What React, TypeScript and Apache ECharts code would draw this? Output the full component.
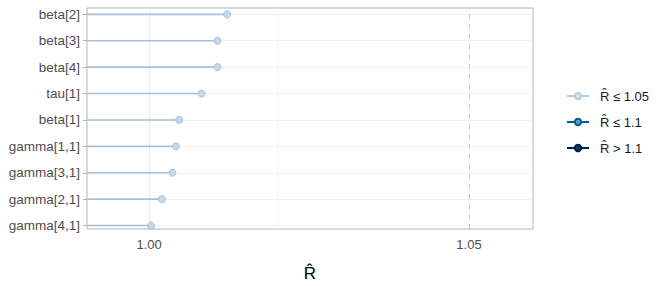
import React, { useEffect, useRef } from "react";
import * as echarts from "echarts";

const params = ["gamma[4,1]", "gamma[2,1]", "gamma[3,1]", "gamma[1,1]", "beta[1]", "tau[1]", "beta[4]", "beta[3]", "beta[2]"];
const rhat = [1.0003, 1.002, 1.00365, 1.0042, 1.0047, 1.0082, 1.0107, 1.0107, 1.0122];
const xTicks = [1.0, 1.05];
const legendNames = ["R\u0302 \u2264 1.05", "R\u0302 \u2264 1.1", "R\u0302 > 1.1"];
const legendLine = ["#b3cde0", "#005b96", "#011f4b"];
const legendFill = ["#d1e1ec", "#6497b1", "#03396c"];

const X_MIN = 0.9903;
const X_MAX = 1.06;
const FONT = "Liberation Sans, Arial, sans-serif";

export default function App() {
  const ref = useRef<HTMLDivElement>(null);
  useEffect(() => {
    document.body.style.margin = "0";
    if (!ref.current) return;
    const chart = echarts.init(ref.current, undefined, { renderer: "svg" });
    const idx = params.map((_, i) => i);
    const option: any = {
      animation: false,
      textStyle: { fontFamily: FONT },
      grid: {
        left: 87,
        right: 127,
        top: 8,
        bottom: 57,
        outerBoundsMode: "none",
        containLabel: false,
        show: true,
        borderColor: "#b3b3b3",
        borderWidth: 1,
        backgroundColor: "transparent",
      },
      xAxis: {
        type: "value",
        min: X_MIN,
        max: X_MAX,
        axisLine: { show: false },
        splitLine: { show: false },
        axisTick: { show: true, customValues: xTicks, length: 4, lineStyle: { color: "#b3b3b3" } },
        axisLabel: {
          customValues: xTicks,
          formatter: (v: number) => v.toFixed(2),
          color: "#4d4d4d",
          fontSize: 13,
          margin: 9,
          fontFamily: FONT,
        },
        name: "R\u0302",
        nameLocation: "middle",
        nameGap: 36,
        nameTextStyle: { fontSize: 17, color: "#000", fontFamily: FONT },
      },
      yAxis: {
        type: "value",
        min: -0.13,
        max: 8.24,
        axisLine: { show: false },
        splitLine: { show: false },
        axisTick: { show: true, customValues: idx, length: 4, lineStyle: { color: "#b3b3b3" } },
        axisLabel: {
          customValues: idx,
          formatter: (v: number) => params[Math.round(v)] ?? "",
          color: "#4d4d4d",
          fontSize: 13.5,
          margin: 7,
          fontFamily: FONT,
        },
      },
      legend: {
        orient: "vertical",
        left: 561,
        top: 82,
        itemWidth: 22,
        itemHeight: 8,
        itemGap: 8,
        data: legendNames,
        textStyle: { fontSize: 13, color: "#1a1a1a", fontFamily: FONT, lineHeight: 18, padding: [0, 0, 0, 6] },
      },
      series: [
        {
          type: "line",
          data: [],
          silent: true,
          z: 1,
          markLine: {
            silent: true,
            symbol: "none",
            z: 1,
            label: { show: false },
            data: [
              ...idx.map((i) => ({ yAxis: i, lineStyle: { color: "#f0f0f0", width: 1, type: "solid" } })),
              { xAxis: 1.0, lineStyle: { color: "#ebebeb", width: 1, type: "solid" } },
              { xAxis: 1.025, lineStyle: { color: "#f4f4f4", width: 1, type: "solid" } },
              { xAxis: 1.05, lineStyle: { color: "#c8c8c8", width: 1, type: [5, 5] } },
            ],
          },
        },
        {
          type: "custom",
          silent: true,
          z: 10,
          data: rhat.map((v, i) => [v, i]),
          encode: { x: 0, y: 1 },
          renderItem: (p: any, api: any) => {
            const v = api.value(0);
            const i = api.value(1);
            const s = api.coord([X_MIN, i]);
            const e = api.coord([v, i]);
            return {
              type: "group",
              children: [
                {
                  type: "line",
                  shape: { x1: s[0], y1: s[1], x2: e[0], y2: e[1] },
                  style: { stroke: "#a4c1d9", lineWidth: 1.6 },
                },
                {
                  type: "circle",
                  shape: { cx: e[0], cy: e[1], r: 3.5 },
                  style: { fill: "#c6d9e8", stroke: "#a4c1d9", lineWidth: 1 },
                },
              ],
            };
          },
        },
        ...legendNames.map((n, k) => ({
          type: "line",
          name: n,
          data: [],
          symbol: "circle",
          symbolSize: 7,
          lineStyle: { color: legendLine[k], width: 1.5 },
          itemStyle: { color: legendFill[k], borderColor: legendLine[k], borderWidth: 1 },
        })),
      ],
    };
    chart.setOption(option);
    return () => chart.dispose();
  }, []);
  return <div ref={ref} style={{ width: 660, height: 286 }} />;
}
